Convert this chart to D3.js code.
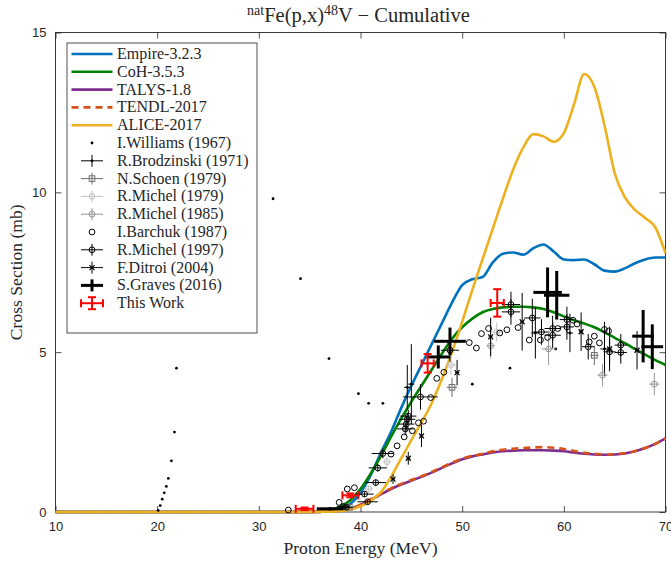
<!DOCTYPE html>
<html>
<head>
<meta charset="utf-8">
<script src="https://cdn.jsdelivr.net/npm/d3@7"></script>
<style>
    body { margin: 0; background: #fff; }
    .axis text { font-family: "Liberation Sans", Arial, sans-serif; font-size: 13px; fill: #262626; }
    .axis line { stroke: #262626; stroke-width: 0.8; }
</style>
</head>
<body>
<svg id="chart" width="671" height="562"></svg>
<script>
// Model calculations, on a shared energy grid (MeV)
const energies = [10, 34, 35, 36, 37, 38, 39, 40, 41, 42, 43, 44, 45, 46, 47, 48, 49, 50, 51, 52,
    53, 54, 55, 56, 57, 58, 59, 60, 61, 62, 63, 64, 65, 66, 67, 68, 69, 70];
const empire = [0, 0, 0, 0.005, 0.02, 0.08, 0.25, 0.6, 1.15, 1.85, 2.5, 3.25, 3.95, 4.6, 5.25, 5.9, 6.55, 7.1, 7.28, 7.35,
    7.8, 8.08, 8.12, 8.05, 8.25, 8.37, 8.15, 7.9, 7.88, 7.9, 7.75, 7.55, 7.52, 7.62, 7.78, 7.9, 7.96, 7.96];
const coh = [0, 0, 0.005, 0.02, 0.07, 0.17, 0.37, 0.72, 1.2, 1.75, 2.35, 2.92, 3.45, 3.95, 4.45, 4.95, 5.42, 5.78, 6.05, 6.25,
    6.35, 6.4, 6.42, 6.42, 6.4, 6.35, 6.25, 6.12, 6.0, 5.9, 5.78, 5.62, 5.45, 5.28, 5.1, 4.92, 4.75, 4.6];
const talys = [0, 0, 0, 0.005, 0.015, 0.04, 0.1, 0.22, 0.38, 0.55, 0.72, 0.86, 0.98, 1.1, 1.23, 1.38, 1.52, 1.65, 1.74, 1.8,
    1.86, 1.9, 1.92, 1.93, 1.93, 1.93, 1.92, 1.9, 1.86, 1.82, 1.8, 1.79, 1.8, 1.83, 1.9, 2.0, 2.13, 2.3];
const tendl = [0, 0, 0, 0.005, 0.015, 0.04, 0.11, 0.23, 0.4, 0.57, 0.74, 0.88, 1.0, 1.12, 1.25, 1.4, 1.54, 1.67, 1.76, 1.82,
    1.9, 1.95, 1.98, 2.0, 2.02, 2.03, 2.01, 1.97, 1.91, 1.85, 1.82, 1.8, 1.81, 1.84, 1.9, 2.0, 2.13, 2.3];
const alice = [0, 0, 0, 0.005, 0.01, 0.03, 0.08, 0.18, 0.35, 0.62, 1.1, 1.68, 2.25, 2.8, 3.4, 4.15, 5.0, 5.95, 6.95, 7.9,
    8.85, 9.8, 10.7, 11.4, 11.82, 11.75, 11.58, 11.85, 12.75, 13.7, 13.3, 12.1, 10.6, 9.85, 9.45, 9.2, 8.9, 8.1];
const modelNames = ['Empire-3.2.3', 'CoH-3.5.3', 'TALYS-1.8', 'TENDL-2017', 'ALICE-2017'];

// Measurements: [energy, cross section, energy error, cross section error]
const williams1967 = [[20.1, 0.05], [20.3, 0.2], [20.5, 0.4], [20.7, 0.6], [20.9, 0.8], [21.1, 1.05], [21.4, 1.6],
    [21.7, 2.5], [21.9, 4.5], [31.4, 9.8], [34.1, 7.3], [36.9, 4.8], [39.8, 3.7], [40.8, 3.4], [42.2, 3.4],
    [51.0, 4.0], [54.7, 4.5], [59.2, 5.1]];
const brodzinski1971 = [[44.6, 3.9, 0.3, 0.7], [45.0, 4.0, 0.3, 1.25], [57.2, 5.6, 0.4, 0.8], [64.0, 5.1, 0.4, 0.85],
    [60.6, 5.6, 0.3, 0.6]];
const schoen1979 = [[49.0, 3.9, 0.5, 0.3], [63.0, 4.9, 0.4, 0.3], [38.9, 0.15, 0.5, 0.05]];
const michel1979 = [[40.8, 0.72, 0.4, 0.1], [42.6, 1.57, 0.4, 0.15], [44.5, 2.6, 0.4, 0.2], [53.4, 5.63, 0.5, 0.3],
    [48.9, 4.6, 0.5, 0.3]];
const michel1985 = [[52.8, 5.2, 0.4, 0.4], [58.5, 5.1, 0.7, 0.5], [63.8, 4.28, 0.5, 0.35], [68.9, 4.0, 0.5, 0.35]];
const barchuk1987 = [[32.9, 0.06], [37.9, 0.3], [38.7, 0.72], [39.4, 0.76], [43.0, 1.81], [43.6, 2.07], [44.3, 2.35],
    [45.1, 2.54], [45.7, 2.79], [46.2, 2.84], [46.9, 3.58], [47.5, 4.18], [48.2, 4.37], [50.7, 5.3], [51.4, 5.13],
    [51.9, 5.58], [52.6, 5.74], [53.7, 5.6], [54.4, 5.7], [55.5, 5.77], [56.6, 5.38], [57.7, 5.38], [58.4, 5.46],
    [59.4, 5.74], [60.9, 6.0], [61.3, 5.88], [62.5, 5.32], [63.0, 5.5], [63.5, 5.29], [64.0, 5.71], [64.4, 5.66]];
const michel1997 = [[38.3, 0.17, 0.6, 0.05], [38.6, 0.15, 0.6, 0.05], [40.4, 0.56, 0.9, 0.08], [40.7, 0.32, 1.0, 0.06],
    [41.5, 0.92, 1.0, 0.1], [41.7, 1.38, 0.9, 0.12], [42.2, 1.83, 1.1, 0.15], [44.4, 2.6, 0.8, 0.2],
    [44.5, 2.75, 0.8, 0.2], [44.6, 2.9, 0.8, 0.2], [44.7, 3.0, 0.8, 0.2], [45.9, 3.6, 1.7, 0.4],
    [48.8, 5.06, 0.9, 0.35], [54.8, 6.49, 0.9, 0.4], [54.8, 6.26, 0.9, 0.4], [56.9, 6.07, 0.8, 0.6],
    [57.8, 5.63, 0.8, 0.4], [58.9, 5.74, 0.8, 0.4], [58.9, 5.53, 0.8, 0.4], [60.3, 6.02, 0.7, 0.4],
    [60.3, 5.79, 0.7, 0.4], [62.4, 5.17, 0.6, 0.4], [64.5, 5.01, 0.6, 0.4], [65.6, 5.22, 0.6, 0.35],
    [65.6, 4.99, 0.6, 0.35]];
const ditroi2004 = [[43.2, 1.03, 0.2, 0.15], [44.7, 1.68, 0.2, 0.2], [46.0, 2.38, 0.2, 0.35], [49.5, 4.36, 0.2, 0.4],
    [52.8, 5.48, 0.2, 0.6], [55.9, 5.95, 0.2, 0.9], [61.7, 5.64, 0.2, 0.6], [64.5, 5.1, 0.2, 0.7],
    [67.2, 5.06, 0.2, 0.6]];
const graves2016 = [[37.0, 0.1, 1.3, 0.05], [47.65, 4.85, 1.15, 0.36], [48.8, 5.34, 1.56, 0.43], [58.4, 6.87, 1.4, 0.78],
    [59.3, 6.78, 1.25, 0.76], [67.8, 5.5, 1.07, 0.82], [68.7, 5.17, 1.07, 0.7]];
const thisWork = [[34.5, 0.1, 0.87, 0.04], [39.0, 0.52, 0.78, 0.06], [46.6, 4.65, 0.6, 0.29], [53.45, 6.54, 0.65, 0.43]];
const expNames = ['I.Williams (1967)', 'R.Brodzinski (1971)', 'N.Schoen (1979)', 'R.Michel (1979)', 'R.Michel (1985)',
    'I.Barchuk (1987)', 'R.Michel (1997)', 'F.Ditroi (2004)', 'S.Graves (2016)', 'This Work'];

const xTicks = [10, 20, 30, 40, 50, 60, 70];
const yTicks = [0, 5, 10, 15];

const serifFont = '"Liberation Serif", "Times New Roman", serif';
const svg = d3.select('#chart');
const width = +svg.attr('width');
const height = +svg.attr('height');
const margin = {top: 32.5, right: 5.5, bottom: 50, left: 55.5};

const x = d3.scaleLinear().domain([10, 70]).range([margin.left, width - margin.right]);
const y = d3.scaleLinear().domain([0, 15]).range([height - margin.bottom, margin.top]);

// Axes with inward ticks on all four sides (box on)
svg.append('g').attr('class', 'axis')
    .attr('transform', `translate(0,${y(0)})`)
    .call(d3.axisBottom(x).tickValues(xTicks).tickSizeInner(-6).tickSizeOuter(0).tickPadding(10))
    .call(g => g.select('.domain').remove());
svg.append('g').attr('class', 'axis')
    .attr('transform', `translate(${x(10)},0)`)
    .call(d3.axisLeft(y).tickValues(yTicks).tickSizeInner(-6).tickSizeOuter(0).tickPadding(9))
    .call(g => g.select('.domain').remove());
svg.append('g').attr('class', 'axis')
    .attr('transform', `translate(0,${y(15)})`)
    .call(d3.axisTop(x).tickValues(xTicks).tickSizeInner(-6).tickSizeOuter(0).tickFormat(''))
    .call(g => g.select('.domain').remove());
svg.append('g').attr('class', 'axis')
    .attr('transform', `translate(${x(70)},0)`)
    .call(d3.axisRight(y).tickValues(yTicks).tickSizeInner(-6).tickSizeOuter(0).tickFormat(''))
    .call(g => g.select('.domain').remove());
svg.append('rect')
    .attr('x', x(10)).attr('y', y(15))
    .attr('width', x(70) - x(10)).attr('height', y(0) - y(15))
    .attr('fill', 'none').attr('stroke', '#262626').attr('stroke-width', 0.9);

// Title and axis labels
const title = svg.append('text')
    .attr('x', (x(10) + x(70)) / 2 - 2).attr('y', 22)
    .attr('text-anchor', 'middle').attr('fill', '#262626')
    .style('font-family', serifFont).style('font-size', '20.5px');
title.append('tspan').attr('dy', -7).style('font-size', '14px').text('nat');
title.append('tspan').attr('dy', 7).text('Fe(p,x)');
title.append('tspan').attr('dy', -7).style('font-size', '14px').text('48');
title.append('tspan').attr('dy', 7).text('V \u2212 Cumulative');

svg.append('text')
    .attr('x', (x(10) + x(70)) / 2).attr('y', 554)
    .attr('text-anchor', 'middle').attr('fill', '#262626')
    .style('font-family', serifFont).style('font-size', '17.6px')
    .text('Proton Energy (MeV)');
svg.append('text')
    .attr('transform', `translate(22,${(y(0) + y(15)) / 2}) rotate(-90)`)
    .attr('text-anchor', 'middle').attr('fill', '#262626')
    .style('font-family', serifFont).style('font-size', '17.6px')
    .text('Cross Section (mb)');

// Model curves
const models = [
    {values: empire, color: '#0072BD', dash: null},
    {values: coh, color: '#008000', dash: null},
    {values: talys, color: '#7E2F8E', dash: null},
    {values: tendl, color: '#D95319', dash: '7,5'},
    {values: alice, color: '#EDB120', dash: null}
];
const line = d3.line()
    .x(d => x(d[0]))
    .y(d => y(d[1]))
    .curve(d3.curveMonotoneX);
models.forEach(m => {
    svg.append('path')
        .datum(energies.map((e, i) => [e, m.values[i]]))
        .attr('d', line)
        .attr('fill', 'none')
        .attr('stroke', m.color)
        .attr('stroke-width', 2.6)
        .attr('stroke-dasharray', m.dash);
});

// Styles of the experimental series
const expStyles = [
    {data: williams1967, color: '#000', lw: 1, marker: 'dot'},
    {data: brodzinski1971, color: '#000', lw: 1, marker: 'dot'},
    {data: schoen1979, color: '#6e6e6e', lw: 1, marker: 'square'},
    {data: michel1979, color: '#c4c4c4', lw: 1, marker: 'circle'},
    {data: michel1985, color: '#969696', lw: 1, marker: 'circle'},
    {data: barchuk1987, color: '#000', lw: 1, marker: 'circle'},
    {data: michel1997, color: '#000', lw: 1, marker: 'circle'},
    {data: ditroi2004, color: '#000', lw: 1, marker: 'asterisk'},
    {data: graves2016, color: '#000', lw: 3, marker: null},
    {data: thisWork, color: '#ff0000', lw: 2, marker: null, cap: 4}
];

function drawMarker(g, type, cx, cy, color) {
    if (type === 'dot') {
        g.append('circle').attr('cx', cx).attr('cy', cy).attr('r', 1.4).attr('fill', color).attr('stroke', 'none');
    } else if (type === 'circle') {
        g.append('circle').attr('cx', cx).attr('cy', cy).attr('r', 2.9)
            .attr('fill', 'none').attr('stroke', color).attr('stroke-width', 1);
    } else if (type === 'square') {
        g.append('rect').attr('x', cx - 2.8).attr('y', cy - 2.8).attr('width', 5.6).attr('height', 5.6)
            .attr('fill', 'none').attr('stroke', color).attr('stroke-width', 1);
    } else if (type === 'asterisk') {
        g.append('path').attr('transform', `translate(${cx},${cy})`)
            .attr('d', d3.symbol().type(d3.symbolTimes).size(18)())
            .attr('fill', 'none').attr('stroke', color).attr('stroke-width', 1.2);
    }
}

// Draws one point with its error cross (half-lengths hx, hy in pixels)
function drawPoint(g, s, cx, cy, hx, hy) {
    const grp = g.append('g').attr('stroke', s.color).attr('stroke-width', s.lw);
    if (hx > 0) grp.append('line').attr('x1', cx - hx).attr('x2', cx + hx).attr('y1', cy).attr('y2', cy);
    if (hy > 0) grp.append('line').attr('x1', cx).attr('x2', cx).attr('y1', cy - hy).attr('y2', cy + hy);
    if (s.cap) {
        if (hx > 0) {
            grp.append('line').attr('x1', cx - hx).attr('x2', cx - hx).attr('y1', cy - s.cap).attr('y2', cy + s.cap);
            grp.append('line').attr('x1', cx + hx).attr('x2', cx + hx).attr('y1', cy - s.cap).attr('y2', cy + s.cap);
        }
        if (hy > 0) {
            grp.append('line').attr('x1', cx - s.cap).attr('x2', cx + s.cap).attr('y1', cy - hy).attr('y2', cy - hy);
            grp.append('line').attr('x1', cx - s.cap).attr('x2', cx + s.cap).attr('y1', cy + hy).attr('y2', cy + hy);
        }
    }
    if (s.marker) drawMarker(grp, s.marker, cx, cy, s.color);
}

const dataG = svg.append('g');
expStyles.forEach(s => {
    const g = dataG.append('g');
    s.data.forEach(d => {
        const de = d[2] || 0, ds = d[3] || 0;
        drawPoint(g, s, x(d[0]), y(d[1]), x(d[0] + de) - x(d[0]), y(d[1]) - y(d[1] + ds));
    });
});

// Legend
const legend = svg.append('g');
legend.append('rect')
    .attr('x', 67).attr('y', 43).attr('width', 190).attr('height', 290)
    .attr('fill', '#fff').attr('stroke', '#262626').attr('stroke-width', 0.8);
const rowY = i => 54 + i * 17.8;
modelNames.forEach((name, i) => {
    legend.append('line')
        .attr('x1', 71.5).attr('x2', 112.5).attr('y1', rowY(i)).attr('y2', rowY(i))
        .attr('stroke', models[i].color).attr('stroke-width', 2.6)
        .attr('stroke-dasharray', models[i].dash);
});
expNames.forEach((name, j) => {
    const s = expStyles[j];
    const hasBars = s.data[0].length > 2;
    drawPoint(legend, s, 92, rowY(j + 5), hasBars ? 11 : 0, hasBars ? 6 : 0);
});
modelNames.concat(expNames).forEach((name, i) => {
    legend.append('text')
        .attr('x', 117).attr('y', rowY(i) + 5).attr('fill', '#262626')
        .style('font-family', serifFont).style('font-size', '16px')
        .text(name);
});
</script>
</body>
</html>
